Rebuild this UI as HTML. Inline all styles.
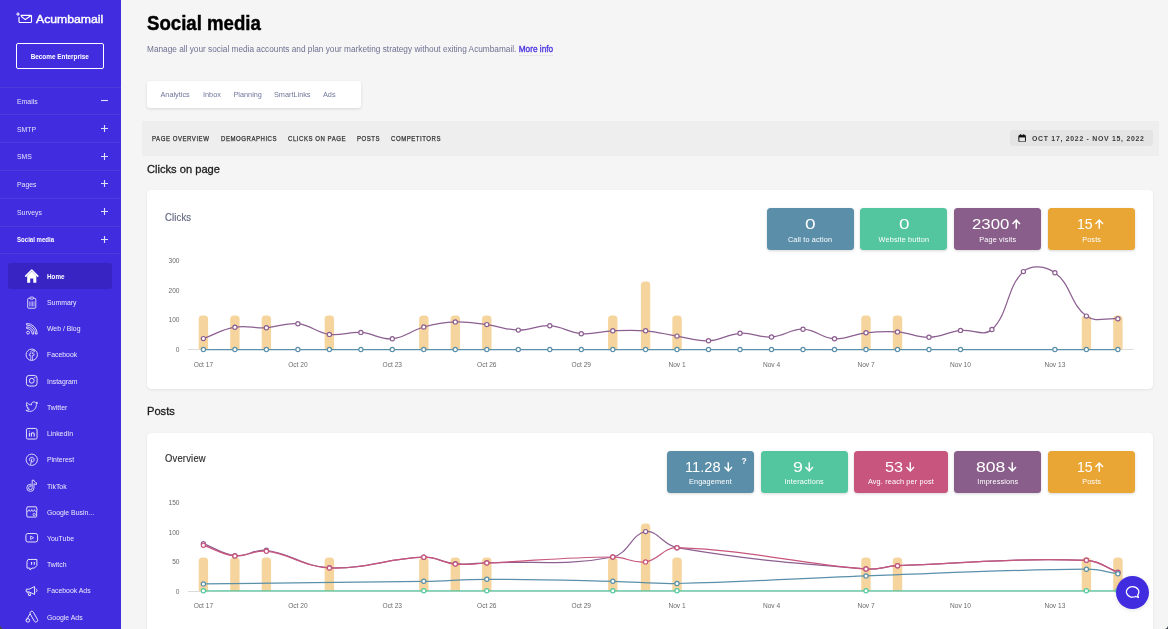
<!DOCTYPE html>
<html lang="en">
<head>
<meta charset="utf-8">
<title>Social media - Acumbamail</title>
<style>
*{box-sizing:border-box;margin:0;padding:0}
html,body{width:1168px;height:629px;overflow:hidden;background:#f5f5f5;font-family:"Liberation Sans",sans-serif;}
body{position:relative}
.abs{position:absolute}
#side{position:absolute;left:0;top:0;width:121px;height:629px;background:#412cdf;color:#fff;overflow:hidden}
#side .logo{position:absolute;left:36.4px;top:10.1px;font-size:11.6px;font-weight:normal;-webkit-text-stroke:.4px #fff;line-height:18px;white-space:nowrap;transform-origin:0 50%;transform:scaleX(1.055)}
#side .btn{position:absolute;left:16.3px;top:43.1px;width:87.5px;height:25.9px;border:1.8px solid #fff;border-radius:2px;white-space:nowrap}
#side .btn span{position:absolute;left:0;right:0;top:7.9px;font-size:7.3px;font-weight:bold;text-align:center;line-height:10px;transform:scaleX(.875)}
#side .sep{position:absolute;left:0;width:121px;height:1px;background:#4f3ade}
#side .mi{position:absolute;left:16.5px;font-size:8px;line-height:10px;color:#e4e1fa;white-space:nowrap;transform-origin:0 50%;transform:scaleX(.86)}
#side .mi.b{font-weight:bold;color:#fff;font-size:7.5px;transform:scaleX(.81)}
#side .pm{position:absolute;left:101.1px;width:7px;height:7px}
#side .pm:before{content:"";position:absolute;left:0;top:2.9px;width:7px;height:1.2px;background:#f0eefc}
#side .pm.p:after{content:"";position:absolute;left:2.9px;top:0;width:1.2px;height:7px;background:#f0eefc}
#side .hl{position:absolute;left:7.8px;top:263px;width:104.4px;height:26px;border-radius:3px;background:#3824c3}
#side .si{position:absolute;left:47px;font-size:8px;line-height:10px;color:#eceafc;white-space:nowrap;transform-origin:0 50%;transform:scaleX(.86)}
#side .si.b{font-weight:bold;color:#fff;font-size:7.5px;transform:scaleX(.84)}
#side svg.ic{position:absolute;left:25px;width:13.5px;height:13.5px;overflow:visible}
#side svg.ic *{vector-effect:none}
h1{position:absolute;left:147px;top:6.5px;font-size:20.7px;line-height:32px;font-weight:bold;color:#000;white-space:nowrap;transform-origin:0 50%;transform:scaleX(.9);-webkit-text-stroke:.45px #000}
.sub{position:absolute;left:147px;top:43.9px;font-size:8.27px;line-height:12px;color:#6e7191;white-space:nowrap}
.sub b{font-weight:normal;color:#4a33e0;-webkit-text-stroke:.3px #4a33e0;display:inline-block;line-height:10px;border-bottom:1px solid #e6e6ea}
.tabs{position:absolute;left:147px;top:81px;width:214.3px;height:26.5px;background:#fff;border-radius:3px;box-shadow:0 1px 3px rgba(0,0,0,.12)}
.tabs span{position:absolute;top:8.9px;font-size:7.3px;line-height:10px;color:#70779c;white-space:nowrap}
.nav{position:absolute;left:142px;top:120.6px;width:1017px;height:35px;background:#eeeeee}
.nav span{position:absolute;top:13.4px;font-size:6.9px;line-height:9px;letter-spacing:.6px;color:#333;font-weight:normal;-webkit-text-stroke:.25px #333;white-space:nowrap;transform-origin:0 50%;transform:scaleX(.878)}
.date{position:absolute;left:1010.3px;top:130px;width:142.7px;height:16.3px;border-radius:3px;background:#e4e4e4}
.date span{position:absolute;left:21.4px;top:4.2px;font-size:7.6px;line-height:10px;letter-spacing:.8px;color:#3a3a3a;font-weight:bold;white-space:nowrap;transform-origin:0 50%;transform:scaleX(.907)}
h2{position:absolute;left:147.4px;font-size:11.3px;line-height:14px;font-weight:normal;color:#1c1c1c;white-space:nowrap;transform-origin:0 50%;transform:scaleX(.985);-webkit-text-stroke:.3px #1c1c1c}
.card{position:absolute;left:147px;width:1006px;background:#fff;border-radius:4.5px;box-shadow:0 1px 3px rgba(0,0,0,.08)}
.ct{position:absolute;left:165.2px;font-size:10.3px;line-height:13px;white-space:nowrap;letter-spacing:.2px;transform-origin:0 50%;transform:scaleX(.917)}
.st{position:absolute;height:42px;border-radius:3.5px;color:#fff;text-align:center;box-shadow:0 1px 3px rgba(0,0,0,.16)}
.st .n{position:absolute;top:5.6px;font-size:15px;line-height:20px;white-space:nowrap;transform-origin:0 50%}
.st svg.ar{position:absolute;top:10.4px;width:8.5px;height:10px;overflow:visible}
.st .q{position:absolute;left:74.6px;top:4.5px;font-size:8.5px;line-height:10px;font-weight:bold}
.st .l{position:absolute;left:0;right:0;top:26.6px;font-size:7.3px;line-height:10px;white-space:nowrap;letter-spacing:.15px}
svg.chart{position:absolute;overflow:visible}
svg.chart .tk text{font-family:"Liberation Sans",sans-serif;font-size:6.6px;fill:#6a6a6a}
.chat{position:absolute;left:1116px;top:575.800px;width:33px;height:33px;border-radius:50%;background:#412cdf;box-shadow:0 1px 4px rgba(0,0,0,.12)}
.corner{position:absolute;left:0;top:624.500px;width:4.500px;height:4.500px;background:#4d4d3c}
.corner2{position:absolute;left:1164.500px;top:625.500px;width:3.500px;height:3.500px;background:#3a3f4a;overflow:hidden}
.corner2:after{content:"";position:absolute;left:-4.500px;top:-4.500px;width:8px;height:8px;border-radius:50%;background:#f5f5f5}
.corner:after{content:"";position:absolute;left:0;top:-4.500px;width:9px;height:9px;border-radius:50%;background:#412cdf}
</style>
</head>
<body>
<div id="side">
<svg class="abs" style="left:16px;top:10px" width="18" height="16" viewBox="16 10 18 16"><g fill="none" stroke="#fff" stroke-width="1.15" stroke-linejoin="round" stroke-linecap="round"><path d="M21 15.3H30.5a1 1 0 0 1 1 1V21.500a1 1 0 0 1 -1 1H20a1 1 0 0 1 -1 -1V17.300"/><path d="M21.400 16.500L25.300 19.600L31.200 15.600"/></g><path d="M18 12.300V15.900M16.200 14.100H19.800" stroke="#fff" stroke-width="1" fill="none"/></svg><div class="logo">Acumbamail</div><div class="btn"><span>Become Enterprise</span></div><div class="sep" style="top:86.6px"></div><div class="sep" style="top:114.4px"></div><div class="sep" style="top:142.2px"></div><div class="sep" style="top:169.9px"></div><div class="sep" style="top:197.7px"></div><div class="sep" style="top:225.5px"></div><div class="sep" style="top:253.3px"></div><div class="mi" style="top:96.86px">Emails</div><svg class="abs" style="left:101.1px;top:97.0px;overflow:visible" width="7" height="7" viewBox="0 0 7 7"><path d="M0 3.5H7" stroke="#e2dffa" stroke-width="1.1" fill="none"/></svg><div class="mi" style="top:124.86px">SMTP</div><svg class="abs" style="left:101.1px;top:124.8px;overflow:visible" width="7" height="7" viewBox="0 0 7 7"><path d="M0 3.5H7M3.5 0V7" stroke="#e2dffa" stroke-width="1.1" fill="none"/></svg><div class="mi" style="top:151.86px">SMS</div><svg class="abs" style="left:101.1px;top:152.5px;overflow:visible" width="7" height="7" viewBox="0 0 7 7"><path d="M0 3.5H7M3.5 0V7" stroke="#e2dffa" stroke-width="1.1" fill="none"/></svg><div class="mi" style="top:179.86px">Pages</div><svg class="abs" style="left:101.1px;top:180.2px;overflow:visible" width="7" height="7" viewBox="0 0 7 7"><path d="M0 3.5H7M3.5 0V7" stroke="#e2dffa" stroke-width="1.1" fill="none"/></svg><div class="mi" style="top:207.86px">Surveys</div><svg class="abs" style="left:101.1px;top:208.0px;overflow:visible" width="7" height="7" viewBox="0 0 7 7"><path d="M0 3.5H7M3.5 0V7" stroke="#e2dffa" stroke-width="1.1" fill="none"/></svg><div class="mi b" style="top:235.02px">Social media</div><svg class="abs" style="left:101.1px;top:235.8px;overflow:visible" width="7" height="7" viewBox="0 0 7 7"><path d="M0 3.5H7M3.5 0V7" stroke="#e2dffa" stroke-width="1.1" fill="none"/></svg><div class="hl"></div><svg class="ic" style="top:269.3px" viewBox="0 0 15 15"><path d="M0.8 7.9L7.5 1.2L14.2 7.9" fill="none" stroke="#fff" stroke-width="1.7" stroke-linejoin="round" stroke-linecap="round"/><path d="M2.4 7.6L7.5 2.6L12.6 7.600V15.400H9.200V10.600H5.800V15.400H2.400Z" fill="#fff"/></svg><div class="si b" style="top:272.02px">Home</div><svg class="ic" style="top:295.5px" viewBox="0 0 15 15"><g fill="none" stroke="#e8e5fb" stroke-width="1"><rect x="3" y="2.6" width="9" height="11" rx="1"/><rect x="5.6" y="1.2" width="3.8" height="2.2" rx=".6" fill="#412cdf"/><path d="M5.2 6V11.6M6.8 6V11.6M8.4 6V11.6M10 6V11.6" stroke-width=".7"/></g></svg><div class="si" style="top:297.86px">Summary</div><svg class="ic" style="top:321.7px" viewBox="0 0 15 15"><g fill="none" stroke="#e8e5fb" stroke-width="1"><circle cx="3.4" cy="11.8" r="1.6"/><path d="M1.8 7.2a6.2 6.2 0 0 1 6.2 6.2h1.8a8 8 0 0 0 -8 -8zM1.8 3.4a10 10 0 0 1 10 10h1.8A11.8 11.8 0 0 0 1.8 1.6z" stroke-linejoin="round"/></g></svg><div class="si" style="top:323.86px">Web / Blog</div><svg class="ic" style="top:347.9px" viewBox="0 0 15 15"><g fill="none" stroke="#e8e5fb" stroke-width="1"><circle cx="7.5" cy="7.5" r="6.3"/><path d="M8.3 13.6V8.4h1.6l.3-1.9H8.3V5.4c0-.7.3-1.1 1.1-1.1h.9V2.7c-.3 0-.9-.1-1.5-.1-1.5 0-2.4.9-2.4 2.5v1.4H4.9v1.9h1.5v5.2" stroke-linejoin="round" stroke-width=".8"/></g></svg><div class="si" style="top:349.86px">Facebook</div><svg class="ic" style="top:374.1px" viewBox="0 0 15 15"><g fill="none" stroke="#e8e5fb" stroke-width="1.1"><rect x="1.6" y="1.6" width="11.8" height="11.8" rx="3"/><circle cx="7.5" cy="7.5" r="2.7"/><circle cx="10.9" cy="4.1" r=".5" fill="#e8e5fb" stroke-width=".5"/></g></svg><div class="si" style="top:376.86px">Instagram</div><svg class="ic" style="top:400.3px" viewBox="0 0 15 15"><path d="M13.8 3.4c-.5.2-1 .4-1.5.4.5-.3 1-.8 1.2-1.4-.5.3-1.1.5-1.7.6a2.6 2.6 0 0 0 -4.5 2.4C5.100 5.300 3.200 4.200 1.900 2.700c-.7 1.200-.3 2.700.8 3.500-.4 0-.8-.1-1.200-.3 0 1.300.9 2.400 2.100 2.600-.4.1-.8.1-1.200 0 .3 1.100 1.300 1.800 2.500 1.900-1.100.900-2.500 1.300-3.900 1.100 1.200.8 2.600 1.200 4.100 1.200 4.900 0 7.600-4.100 7.600-7.600v-.3c.5-.4 1-.9 1.300-1.400z" fill="none" stroke="#e8e5fb" stroke-width="1" stroke-linejoin="round"/></svg><div class="si" style="top:402.86px">Twitter</div><svg class="ic" style="top:426.5px" viewBox="0 0 15 15"><g fill="none" stroke="#e8e5fb" stroke-width="1.1"><rect x="1.6" y="1.6" width="11.8" height="11.8" rx="1.6"/><path d="M4.9 6.4V10.6M4.9 4.3V5M7.1 10.6V6.4M7.1 8c0-1 .7-1.600 1.600-1.600s1.500.6 1.500 1.600v2.600" stroke-width="1.2"/></g></svg><div class="si" style="top:428.86px">LinkedIn</div><svg class="ic" style="top:452.7px" viewBox="0 0 15 15"><g fill="none" stroke="#e8e5fb" stroke-width="1"><circle cx="7.5" cy="7.5" r="6.3"/><path d="M6.3 12.600L7.600 6.600M5.400 8.700c-.6-.8-.6-2.200.2-3.100 1-1.100 3-1.200 4 0 .9 1.100.6 3.100-.4 3.900-.8.600-1.800.3-2.100-.3" stroke-linecap="round"/></g></svg><div class="si" style="top:454.86px">Pinterest</div><svg class="ic" style="top:478.9px" viewBox="0 0 15 15"><g fill="none" stroke="#e8e5fb" stroke-width="1"><path d="M8 1.400h2c.1 1.500 1.200 2.600 2.700 2.700v2c-1 0-1.900-.3-2.700-.8v4.500a4 4 0 1 1 -4 -4c.2 0 .5 0 .7.100v2.100a2 2 0 1 0 1.300 1.900z" stroke-linejoin="round"/></g></svg><div class="si" style="top:481.86px">TikTok</div><svg class="ic" style="top:505.1px" viewBox="0 0 15 15"><g fill="none" stroke="#e8e5fb" stroke-width="1.1"><path d="M2 6.500V12.400a1 1 0 0 0 1 1H12a1 1 0 0 0 1 -1V6.500"/><path d="M1.500 5.200L2.600 2H12.400L13.500 5.200c0 1-.700 1.700-1.500 1.700s-1.500-.7-1.500-1.700c0 1-.7 1.700-1.500 1.700S7.500 6.200 7.500 5.200c0 1-.7 1.700-1.500 1.700S4.500 6.200 4.500 5.200c0 1-.7 1.700-1.500 1.700S1.500 6.200 1.500 5.200z" stroke-linejoin="round"/><circle cx="10.200" cy="10.600" r="1.300" stroke-width=".9"/></g></svg><div class="si" style="top:507.86px">Google Busin...</div><svg class="ic" style="top:531.4px" viewBox="0 0 15 15"><g fill="none" stroke="#e8e5fb" stroke-width="1.1"><rect x="1" y="2.800" width="13" height="9.400" rx="2.200"/><path d="M6.200 5.600L9.600 7.500L6.200 9.400Z" stroke-linejoin="round" stroke-width=".9"/></g></svg><div class="si" style="top:533.86px">YouTube</div><svg class="ic" style="top:557.5px" viewBox="0 0 15 15"><g fill="none" stroke="#e8e5fb" stroke-width="1.1"><path d="M3.400 1.600H13.200V8.400L10.400 11.200H7.800L5.600 13.400V11.200H2.200V4z" stroke-linejoin="round"/><path d="M7.300 4.400V7.400M10.300 4.400V7.400" stroke-width="1.200"/></g></svg><div class="si" style="top:559.86px">Twitch</div><svg class="ic" style="top:583.8px" viewBox="0 0 15 15"><g fill="none" stroke="#e8e5fb" stroke-width="1.1" stroke-linejoin="round"><path d="M1.400 5.800H4.600L10.600 2.800V11.600L4.600 8.800H1.400Z"/><path d="M3.200 8.800L4.200 12.800H6.200L5.400 9.200"/><path d="M12.200 5.400a2 2 0 0 1 0 3.600" stroke-linecap="round"/></g></svg><div class="si" style="top:585.86px">Facebook Ads</div><svg class="ic" style="top:610.0px" viewBox="0 0 15 15"><g fill="none" stroke="#e8e5fb" stroke-width="1.100" stroke-linejoin="round"><path d="M5.800 2.400a2 2 0 0 1 3.500 0L13.800 10.400a2 2 0 0 1 -3.500 2L5.800 4.400a2 2 0 0 1 0 -2z"/><path d="M5.600 4.200L1.300 11.600"/><circle cx="3.200" cy="11.500" r="2"/></g></svg><div class="si" style="top:612.86px">Google Ads</div>
</div>
<h1>Social media</h1>
<div class="sub">Manage all your social media accounts and plan your marketing strategy without exiting Acumbamail. <b>More info</b></div>
<div class="tabs"><span style="left:13.5px">Analytics</span><span style="left:56px">Inbox</span><span style="left:86.5px">Planning</span><span style="left:127px">SmartLinks</span><span style="left:176px">Ads</span></div>
<div class="nav"><span style="left:10px">PAGE OVERVIEW</span><span style="left:79px">DEMOGRAPHICS</span><span style="left:146px">CLICKS ON PAGE</span><span style="left:215px">POSTS</span><span style="left:249px">COMPETITORS</span></div>
<div class="date"><svg class="abs" style="left:7.6px;top:3.7px" width="8.3" height="8.6" viewBox="0 0 9 9" preserveAspectRatio="none"><rect x="0.9" y="1.4" width="7.2" height="6.9" rx="1" fill="none" stroke="#111" stroke-width="1"/><rect x="0.9" y="1.4" width="7.2" height="2.2" fill="#111"/><rect x="2.3" y="0.2" width="1" height="2" fill="#111"/><rect x="5.7" y="0.2" width="1" height="2" fill="#111"/></svg><span>OCT 17, 2022 - NOV 15, 2022</span></div>

<h2 style="top:161.8px">Clicks on page</h2>
<div class="card" style="top:190px;height:199px"></div>
<div class="ct" style="top:210.5px;color:#5f647f;-webkit-text-stroke:.15px #5f647f">Clicks</div>
<div class="st" style="left:766.5px;top:208.3px;width:87.2px;background:#5b8fa9"><span class="n" style="left:38.14px;transform:scaleX(1.271)">0</span><div class="l">Call to action</div></div><div class="st" style="left:860.3px;top:208.3px;width:87.2px;background:#54c69f"><span class="n" style="left:38.55px;transform:scaleX(1.257)">0</span><div class="l">Website button</div></div><div class="st" style="left:954.2px;top:208.3px;width:87.1px;background:#8a5e8b"><span class="n" style="left:17.86px;transform:scaleX(1.118)">2300</span><svg class="ar" style="left:57.6px" viewBox="0 0 8.5 10"><path d="M4.25 9.8V1.2M0.5 5L4.25 1.1L8 5" fill="none" stroke="#fff" stroke-width="1.45"/></svg><div class="l">Page visits</div></div><div class="st" style="left:1048.1px;top:208.3px;width:87.1px;background:#e9a634"><span class="n" style="left:28.54px;transform:scaleX(0.938)">15</span><svg class="ar" style="left:46.9px" viewBox="0 0 8.5 10"><path d="M4.25 9.8V1.2M0.5 5L4.25 1.1L8 5" fill="none" stroke="#fff" stroke-width="1.45"/></svg><div class="l">Posts</div></div>
<svg class="chart" style="left:147px;top:250px" width="1006" height="130" viewBox="147 0 1006 130"><line x1="188" x2="1133.5" y1="99.5" y2="99.5" stroke="#dcdcdc" stroke-width="1"/><path d="M198.70 99.50 V69.20 q0 -3.70 3.70 -3.70 H204.40 q3.70 0 3.70 3.70 V99.50 Z" fill="#f5d59d"/><path d="M230.19 99.50 V69.20 q0 -3.70 3.70 -3.70 H235.89 q3.70 0 3.70 3.70 V99.50 Z" fill="#f5d59d"/><path d="M261.68 99.50 V69.20 q0 -3.70 3.70 -3.70 H267.38 q3.70 0 3.70 3.70 V99.50 Z" fill="#f5d59d"/><path d="M324.66 99.50 V69.20 q0 -3.70 3.70 -3.70 H330.36 q3.70 0 3.70 3.70 V99.50 Z" fill="#f5d59d"/><path d="M419.13 99.50 V69.20 q0 -3.70 3.70 -3.70 H424.83 q3.70 0 3.70 3.70 V99.50 Z" fill="#f5d59d"/><path d="M450.62 99.50 V69.20 q0 -3.70 3.70 -3.70 H456.32 q3.70 0 3.70 3.70 V99.50 Z" fill="#f5d59d"/><path d="M482.11 99.50 V69.20 q0 -3.70 3.70 -3.70 H487.81 q3.70 0 3.70 3.70 V99.50 Z" fill="#f5d59d"/><path d="M608.07 99.50 V69.20 q0 -3.70 3.70 -3.70 H613.77 q3.70 0 3.70 3.70 V99.50 Z" fill="#f5d59d"/><path d="M640.86 99.50 V35.20 q0 -3.70 3.70 -3.70 H646.56 q3.70 0 3.70 3.70 V99.50 Z" fill="#f5d59d"/><path d="M672.35 99.50 V69.20 q0 -3.70 3.70 -3.70 H678.05 q3.70 0 3.70 3.70 V99.50 Z" fill="#f5d59d"/><path d="M861.29 99.50 V69.20 q0 -3.70 3.70 -3.70 H866.99 q3.70 0 3.70 3.70 V99.50 Z" fill="#f5d59d"/><path d="M892.78 99.50 V69.20 q0 -3.70 3.70 -3.70 H898.48 q3.70 0 3.70 3.70 V99.50 Z" fill="#f5d59d"/><path d="M1081.72 99.50 V69.20 q0 -3.70 3.70 -3.70 H1087.42 q3.70 0 3.70 3.70 V99.50 Z" fill="#f5d59d"/><path d="M1113.21 99.50 V69.20 q0 -3.70 3.70 -3.70 H1118.91 q3.70 0 3.70 3.70 V99.50 Z" fill="#f5d59d"/><path d="M203.4 88.6C216.0 84.0 221.9 79.4 234.9 77.2C247.1 75.1 253.8 78.4 266.4 77.7C279.0 77.0 285.6 72.4 297.9 73.7C310.8 75.1 316.4 82.6 329.4 84.4C341.6 86.1 348.4 81.5 360.9 82.4C373.6 83.3 380.0 89.9 392.3 88.8C405.2 87.7 410.9 80.5 423.8 77.0C436.1 73.7 442.7 72.4 455.3 71.9C467.9 71.4 474.3 73.0 486.8 74.6C499.5 76.2 505.7 79.9 518.3 80.1C530.9 80.3 537.3 75.0 549.8 75.7C562.5 76.4 568.5 82.7 581.3 83.7C593.7 84.7 600.1 81.4 612.8 80.8C625.9 80.2 632.5 79.7 645.6 80.8C658.2 81.8 664.4 84.1 677.0 86.1C689.6 88.1 696.0 91.4 708.5 90.8C721.2 90.2 727.3 84.1 740.0 83.3C752.5 82.5 759.1 87.8 771.5 87.0C784.3 86.2 790.5 78.8 803.0 79.2C815.7 79.6 821.7 88.1 834.5 88.8C846.9 89.5 853.3 84.2 866.0 82.8C878.5 81.4 885.0 81.0 897.5 81.9C910.2 82.8 916.4 87.6 929.0 87.3C941.6 87.0 947.7 82.0 960.5 80.4C972.9 78.9 983.8 87.1 991.9 79.5C1009.0 63.6 1006.4 37.0 1023.4 21.6C1031.6 14.3 1045.6 16.1 1054.9 22.7C1070.8 33.9 1070.6 54.5 1086.4 66.1C1095.8 72.9 1105.3 67.7 1117.9 68.8" fill="none" stroke="#8c5f91" stroke-width="1.25"/><circle cx="203.4" cy="88.6" r="2.1" fill="#fff" stroke="#8c5f91" stroke-width="1.2"/><circle cx="234.9" cy="77.2" r="2.1" fill="#fff" stroke="#8c5f91" stroke-width="1.2"/><circle cx="266.4" cy="77.7" r="2.1" fill="#fff" stroke="#8c5f91" stroke-width="1.2"/><circle cx="297.9" cy="73.7" r="2.1" fill="#fff" stroke="#8c5f91" stroke-width="1.2"/><circle cx="329.4" cy="84.4" r="2.1" fill="#fff" stroke="#8c5f91" stroke-width="1.2"/><circle cx="360.9" cy="82.4" r="2.1" fill="#fff" stroke="#8c5f91" stroke-width="1.2"/><circle cx="392.3" cy="88.8" r="2.1" fill="#fff" stroke="#8c5f91" stroke-width="1.2"/><circle cx="423.8" cy="77.0" r="2.1" fill="#fff" stroke="#8c5f91" stroke-width="1.2"/><circle cx="455.3" cy="71.9" r="2.1" fill="#fff" stroke="#8c5f91" stroke-width="1.2"/><circle cx="486.8" cy="74.6" r="2.1" fill="#fff" stroke="#8c5f91" stroke-width="1.2"/><circle cx="518.3" cy="80.1" r="2.1" fill="#fff" stroke="#8c5f91" stroke-width="1.2"/><circle cx="549.8" cy="75.7" r="2.1" fill="#fff" stroke="#8c5f91" stroke-width="1.2"/><circle cx="581.3" cy="83.7" r="2.1" fill="#fff" stroke="#8c5f91" stroke-width="1.2"/><circle cx="612.8" cy="80.8" r="2.1" fill="#fff" stroke="#8c5f91" stroke-width="1.2"/><circle cx="645.6" cy="80.8" r="2.1" fill="#fff" stroke="#8c5f91" stroke-width="1.2"/><circle cx="677.0" cy="86.1" r="2.1" fill="#fff" stroke="#8c5f91" stroke-width="1.2"/><circle cx="708.5" cy="90.8" r="2.1" fill="#fff" stroke="#8c5f91" stroke-width="1.2"/><circle cx="740.0" cy="83.3" r="2.1" fill="#fff" stroke="#8c5f91" stroke-width="1.2"/><circle cx="771.5" cy="87.0" r="2.1" fill="#fff" stroke="#8c5f91" stroke-width="1.2"/><circle cx="803.0" cy="79.2" r="2.1" fill="#fff" stroke="#8c5f91" stroke-width="1.2"/><circle cx="834.5" cy="88.8" r="2.1" fill="#fff" stroke="#8c5f91" stroke-width="1.2"/><circle cx="866.0" cy="82.8" r="2.1" fill="#fff" stroke="#8c5f91" stroke-width="1.2"/><circle cx="897.5" cy="81.9" r="2.1" fill="#fff" stroke="#8c5f91" stroke-width="1.2"/><circle cx="929.0" cy="87.3" r="2.1" fill="#fff" stroke="#8c5f91" stroke-width="1.2"/><circle cx="960.5" cy="80.4" r="2.1" fill="#fff" stroke="#8c5f91" stroke-width="1.2"/><circle cx="991.9" cy="79.5" r="2.1" fill="#fff" stroke="#8c5f91" stroke-width="1.2"/><circle cx="1023.4" cy="21.6" r="2.1" fill="#fff" stroke="#8c5f91" stroke-width="1.2"/><circle cx="1054.9" cy="22.7" r="2.1" fill="#fff" stroke="#8c5f91" stroke-width="1.2"/><circle cx="1086.4" cy="66.1" r="2.1" fill="#fff" stroke="#8c5f91" stroke-width="1.2"/><circle cx="1117.9" cy="68.8" r="2.1" fill="#fff" stroke="#8c5f91" stroke-width="1.2"/><path d="M203.4 99.5 H1117.9" stroke="#5a90aa" stroke-width="1.25"/><circle cx="203.4" cy="99.5" r="2.1" fill="#fff" stroke="#5a90aa" stroke-width="1.2"/><circle cx="234.9" cy="99.5" r="2.1" fill="#fff" stroke="#5a90aa" stroke-width="1.2"/><circle cx="266.4" cy="99.5" r="2.1" fill="#fff" stroke="#5a90aa" stroke-width="1.2"/><circle cx="297.9" cy="99.5" r="2.1" fill="#fff" stroke="#5a90aa" stroke-width="1.2"/><circle cx="329.4" cy="99.5" r="2.1" fill="#fff" stroke="#5a90aa" stroke-width="1.2"/><circle cx="360.9" cy="99.5" r="2.1" fill="#fff" stroke="#5a90aa" stroke-width="1.2"/><circle cx="392.3" cy="99.5" r="2.1" fill="#fff" stroke="#5a90aa" stroke-width="1.2"/><circle cx="423.8" cy="99.5" r="2.1" fill="#fff" stroke="#5a90aa" stroke-width="1.2"/><circle cx="455.3" cy="99.5" r="2.1" fill="#fff" stroke="#5a90aa" stroke-width="1.2"/><circle cx="486.8" cy="99.5" r="2.1" fill="#fff" stroke="#5a90aa" stroke-width="1.2"/><circle cx="518.3" cy="99.5" r="2.1" fill="#fff" stroke="#5a90aa" stroke-width="1.2"/><circle cx="549.8" cy="99.5" r="2.1" fill="#fff" stroke="#5a90aa" stroke-width="1.2"/><circle cx="581.3" cy="99.5" r="2.1" fill="#fff" stroke="#5a90aa" stroke-width="1.2"/><circle cx="612.8" cy="99.5" r="2.1" fill="#fff" stroke="#5a90aa" stroke-width="1.2"/><circle cx="645.6" cy="99.5" r="2.1" fill="#fff" stroke="#5a90aa" stroke-width="1.2"/><circle cx="677.0" cy="99.5" r="2.1" fill="#fff" stroke="#5a90aa" stroke-width="1.2"/><circle cx="708.5" cy="99.5" r="2.1" fill="#fff" stroke="#5a90aa" stroke-width="1.2"/><circle cx="740.0" cy="99.5" r="2.1" fill="#fff" stroke="#5a90aa" stroke-width="1.2"/><circle cx="771.5" cy="99.5" r="2.1" fill="#fff" stroke="#5a90aa" stroke-width="1.2"/><circle cx="803.0" cy="99.5" r="2.1" fill="#fff" stroke="#5a90aa" stroke-width="1.2"/><circle cx="834.5" cy="99.5" r="2.1" fill="#fff" stroke="#5a90aa" stroke-width="1.2"/><circle cx="866.0" cy="99.5" r="2.1" fill="#fff" stroke="#5a90aa" stroke-width="1.2"/><circle cx="897.5" cy="99.5" r="2.1" fill="#fff" stroke="#5a90aa" stroke-width="1.2"/><circle cx="929.0" cy="99.5" r="2.1" fill="#fff" stroke="#5a90aa" stroke-width="1.2"/><circle cx="960.5" cy="99.5" r="2.1" fill="#fff" stroke="#5a90aa" stroke-width="1.2"/><circle cx="1054.9" cy="99.5" r="2.1" fill="#fff" stroke="#5a90aa" stroke-width="1.2"/><circle cx="1086.4" cy="99.5" r="2.1" fill="#fff" stroke="#5a90aa" stroke-width="1.2"/><circle cx="1117.9" cy="99.5" r="2.1" fill="#fff" stroke="#5a90aa" stroke-width="1.2"/><g class="tk"><text x="179.5" y="101.8" text-anchor="end">0</text><text x="179.5" y="72.1" text-anchor="end">100</text><text x="179.5" y="42.5" text-anchor="end">200</text><text x="179.5" y="12.8" text-anchor="end">300</text><text x="203.4" y="116.6" text-anchor="middle">Oct 17</text><text x="297.9" y="116.6" text-anchor="middle">Oct 20</text><text x="392.3" y="116.6" text-anchor="middle">Oct 23</text><text x="486.8" y="116.6" text-anchor="middle">Oct 26</text><text x="581.3" y="116.6" text-anchor="middle">Oct 29</text><text x="677.0" y="116.6" text-anchor="middle">Nov 1</text><text x="771.5" y="116.6" text-anchor="middle">Nov 4</text><text x="866.0" y="116.6" text-anchor="middle">Nov 7</text><text x="960.5" y="116.6" text-anchor="middle">Nov 10</text><text x="1054.9" y="116.6" text-anchor="middle">Nov 13</text></g></svg>

<h2 style="top:403.9px">Posts</h2>
<div class="card" style="top:433px;height:220px"></div>
<div class="ct" style="top:451.7px;color:#2e2e2e;-webkit-text-stroke:.15px #2e2e2e">Overview</div>
<div class="st" style="left:666.8px;top:451.3px;width:87.2px;background:#5b8fa9"><span class="n" style="left:18.60px;transform:scaleX(0.975)">11.28</span><svg class="ar" style="left:56.9px" viewBox="0 0 8.5 10"><path d="M4.25 0.2V8.8M0.5 5L4.25 8.9L8 5" fill="none" stroke="#fff" stroke-width="1.45"/></svg><div class="l" style="top:25.9px">Engagement</div><div class="q">?</div></div><div class="st" style="left:760.5px;top:451.3px;width:87.3px;background:#54c69f"><span class="n" style="left:32.26px;transform:scaleX(1.182)">9</span><svg class="ar" style="left:44.2px" viewBox="0 0 8.5 10"><path d="M4.25 0.2V8.8M0.5 5L4.25 8.9L8 5" fill="none" stroke="#fff" stroke-width="1.45"/></svg><div class="l" style="top:25.9px">Interactions</div></div><div class="st" style="left:854.3px;top:451.3px;width:93.3px;background:#c8557d"><span class="n" style="left:31.05px;transform:scaleX(1.084)">53</span><svg class="ar" style="left:51.4px" viewBox="0 0 8.5 10"><path d="M4.25 0.2V8.8M0.5 5L4.25 8.9L8 5" fill="none" stroke="#fff" stroke-width="1.45"/></svg><div class="l" style="top:25.9px">Avg. reach per post</div></div><div class="st" style="left:954.2px;top:451.3px;width:87.1px;background:#8a5e8b"><span class="n" style="left:22.25px;transform:scaleX(1.171)">808</span><svg class="ar" style="left:53.7px" viewBox="0 0 8.5 10"><path d="M4.25 0.2V8.8M0.5 5L4.25 8.9L8 5" fill="none" stroke="#fff" stroke-width="1.45"/></svg><div class="l" style="top:25.9px">Impressions</div></div><div class="st" style="left:1048.1px;top:451.3px;width:87.1px;background:#e9a634"><span class="n" style="left:28.54px;transform:scaleX(0.938)">15</span><svg class="ar" style="left:46.9px" viewBox="0 0 8.5 10"><path d="M4.25 9.8V1.2M0.5 5L4.25 1.1L8 5" fill="none" stroke="#fff" stroke-width="1.45"/></svg><div class="l" style="top:25.9px">Posts</div></div>
<svg class="chart" style="left:147px;top:490px" width="1006" height="139" viewBox="147 0 1006 139"><line x1="188" x2="1133.5" y1="101.5" y2="101.5" stroke="#dcdcdc" stroke-width="1"/><path d="M198.70 101.20 V71.10 q0 -3.70 3.70 -3.70 H204.40 q3.70 0 3.70 3.70 V101.20 Z" fill="#f5d59d"/><path d="M230.19 101.20 V71.10 q0 -3.70 3.70 -3.70 H235.89 q3.70 0 3.70 3.70 V101.20 Z" fill="#f5d59d"/><path d="M261.68 101.20 V71.10 q0 -3.70 3.70 -3.70 H267.38 q3.70 0 3.70 3.70 V101.20 Z" fill="#f5d59d"/><path d="M324.66 101.20 V71.10 q0 -3.70 3.70 -3.70 H330.36 q3.70 0 3.70 3.70 V101.20 Z" fill="#f5d59d"/><path d="M419.13 101.20 V71.10 q0 -3.70 3.70 -3.70 H424.83 q3.70 0 3.70 3.70 V101.20 Z" fill="#f5d59d"/><path d="M450.62 101.20 V71.10 q0 -3.70 3.70 -3.70 H456.32 q3.70 0 3.70 3.70 V101.20 Z" fill="#f5d59d"/><path d="M482.11 101.20 V71.10 q0 -3.70 3.70 -3.70 H487.81 q3.70 0 3.70 3.70 V101.20 Z" fill="#f5d59d"/><path d="M608.07 101.20 V71.10 q0 -3.70 3.70 -3.70 H613.77 q3.70 0 3.70 3.70 V101.20 Z" fill="#f5d59d"/><path d="M640.86 101.20 V37.30 q0 -3.70 3.70 -3.70 H646.56 q3.70 0 3.70 3.70 V101.20 Z" fill="#f5d59d"/><path d="M672.35 101.20 V71.10 q0 -3.70 3.70 -3.70 H678.05 q3.70 0 3.70 3.70 V101.20 Z" fill="#f5d59d"/><path d="M861.29 101.20 V71.10 q0 -3.70 3.70 -3.70 H866.99 q3.70 0 3.70 3.70 V101.20 Z" fill="#f5d59d"/><path d="M892.78 101.20 V71.10 q0 -3.70 3.70 -3.70 H898.48 q3.70 0 3.70 3.70 V101.20 Z" fill="#f5d59d"/><path d="M1081.72 101.20 V71.10 q0 -3.70 3.70 -3.70 H1087.42 q3.70 0 3.70 3.70 V101.20 Z" fill="#f5d59d"/><path d="M1113.21 101.20 V71.10 q0 -3.70 3.70 -3.70 H1118.91 q3.70 0 3.70 3.70 V101.20 Z" fill="#f5d59d"/><path d="M203.4 53.6C216.0 58.4 222.0 64.3 234.9 65.7C247.1 67.0 254.0 58.7 266.4 60.3C291.8 63.6 303.7 76.7 329.4 77.8C366.7 79.4 386.2 68.4 423.8 67.2C436.6 66.8 442.6 72.6 455.3 73.7C467.8 74.8 474.2 73.3 486.8 72.8C537.2 70.7 565.0 76.4 612.8 67.0C628.5 63.9 631.7 43.6 645.6 41.6C657.4 39.9 663.2 55.4 677.0 57.7C751.4 70.3 790.4 72.8 866.0 79.0C878.6 80.0 884.8 76.2 897.5 75.7C973.0 72.7 1011.6 68.1 1086.4 70.3C1099.7 70.7 1105.3 77.4 1117.9 82.2" fill="none" stroke="#8c5f91" stroke-width="1.25"/><circle cx="203.4" cy="53.6" r="2.1" fill="#fff" stroke="#8c5f91" stroke-width="1.2"/><circle cx="234.9" cy="65.7" r="2.1" fill="#fff" stroke="#8c5f91" stroke-width="1.2"/><circle cx="266.4" cy="60.3" r="2.1" fill="#fff" stroke="#8c5f91" stroke-width="1.2"/><circle cx="329.4" cy="77.8" r="2.1" fill="#fff" stroke="#8c5f91" stroke-width="1.2"/><circle cx="423.8" cy="67.2" r="2.1" fill="#fff" stroke="#8c5f91" stroke-width="1.2"/><circle cx="455.3" cy="73.7" r="2.1" fill="#fff" stroke="#8c5f91" stroke-width="1.2"/><circle cx="486.8" cy="72.8" r="2.1" fill="#fff" stroke="#8c5f91" stroke-width="1.2"/><circle cx="612.8" cy="67.0" r="2.1" fill="#fff" stroke="#8c5f91" stroke-width="1.2"/><circle cx="645.6" cy="41.6" r="2.1" fill="#fff" stroke="#8c5f91" stroke-width="1.2"/><circle cx="677.0" cy="57.7" r="2.1" fill="#fff" stroke="#8c5f91" stroke-width="1.2"/><circle cx="866.0" cy="79.0" r="2.1" fill="#fff" stroke="#8c5f91" stroke-width="1.2"/><circle cx="897.5" cy="75.7" r="2.1" fill="#fff" stroke="#8c5f91" stroke-width="1.2"/><circle cx="1086.4" cy="70.3" r="2.1" fill="#fff" stroke="#8c5f91" stroke-width="1.2"/><circle cx="1117.9" cy="82.2" r="2.1" fill="#fff" stroke="#8c5f91" stroke-width="1.2"/><path d="M203.4 55.2C216.0 59.5 222.0 64.7 234.9 65.9C247.2 67.1 254.0 59.6 266.4 61.2C291.8 64.4 303.7 76.9 329.4 77.9C366.7 79.3 386.2 68.3 423.8 67.2C436.6 66.8 442.6 72.9 455.3 74.1C467.8 75.2 474.2 73.6 486.8 73.0C537.2 70.7 562.5 67.3 612.8 67.0C626.0 66.9 633.0 73.7 645.6 71.9C658.7 70.0 663.5 57.3 677.0 57.7C751.7 60.1 790.4 72.8 866.0 79.0C878.6 80.0 884.8 76.2 897.5 75.7C973.0 72.7 1011.6 68.0 1086.4 70.3C1099.8 70.7 1105.3 77.6 1117.9 82.4" fill="none" stroke="#c8557d" stroke-width="1.25"/><circle cx="203.4" cy="55.2" r="2.1" fill="#fff" stroke="#c8557d" stroke-width="1.2"/><circle cx="234.9" cy="65.9" r="2.1" fill="#fff" stroke="#c8557d" stroke-width="1.2"/><circle cx="266.4" cy="61.2" r="2.1" fill="#fff" stroke="#c8557d" stroke-width="1.2"/><circle cx="329.4" cy="77.9" r="2.1" fill="#fff" stroke="#c8557d" stroke-width="1.2"/><circle cx="423.8" cy="67.2" r="2.1" fill="#fff" stroke="#c8557d" stroke-width="1.2"/><circle cx="455.3" cy="74.1" r="2.1" fill="#fff" stroke="#c8557d" stroke-width="1.2"/><circle cx="486.8" cy="73.0" r="2.1" fill="#fff" stroke="#c8557d" stroke-width="1.2"/><circle cx="612.8" cy="67.0" r="2.1" fill="#fff" stroke="#c8557d" stroke-width="1.2"/><circle cx="645.6" cy="71.9" r="2.1" fill="#fff" stroke="#c8557d" stroke-width="1.2"/><circle cx="677.0" cy="57.7" r="2.1" fill="#fff" stroke="#c8557d" stroke-width="1.2"/><circle cx="866.0" cy="79.0" r="2.1" fill="#fff" stroke="#c8557d" stroke-width="1.2"/><circle cx="897.5" cy="75.7" r="2.1" fill="#fff" stroke="#c8557d" stroke-width="1.2"/><circle cx="1086.4" cy="70.3" r="2.1" fill="#fff" stroke="#c8557d" stroke-width="1.2"/><circle cx="1117.9" cy="82.4" r="2.1" fill="#fff" stroke="#c8557d" stroke-width="1.2"/><path d="M203.4 93.9C291.6 92.9 335.7 92.7 423.8 91.3C449.0 90.9 461.6 89.3 486.8 89.3C537.2 89.3 562.4 90.2 612.8 91.3C638.5 91.9 651.3 94.0 677.0 93.5C752.6 91.9 790.4 88.5 866.0 85.9C954.1 82.8 998.4 80.0 1086.4 79.2C1099.1 79.1 1105.3 81.9 1117.9 83.7" fill="none" stroke="#5a90aa" stroke-width="1.25"/><circle cx="203.4" cy="93.9" r="2.1" fill="#fff" stroke="#5a90aa" stroke-width="1.2"/><circle cx="423.8" cy="91.3" r="2.1" fill="#fff" stroke="#5a90aa" stroke-width="1.2"/><circle cx="486.8" cy="89.3" r="2.1" fill="#fff" stroke="#5a90aa" stroke-width="1.2"/><circle cx="612.8" cy="91.3" r="2.1" fill="#fff" stroke="#5a90aa" stroke-width="1.2"/><circle cx="677.0" cy="93.5" r="2.1" fill="#fff" stroke="#5a90aa" stroke-width="1.2"/><circle cx="866.0" cy="85.9" r="2.1" fill="#fff" stroke="#5a90aa" stroke-width="1.2"/><circle cx="1086.4" cy="79.2" r="2.1" fill="#fff" stroke="#5a90aa" stroke-width="1.2"/><circle cx="1117.9" cy="83.7" r="2.1" fill="#fff" stroke="#5a90aa" stroke-width="1.2"/><path d="M203.4 100.8C291.6 100.8 335.7 100.8 423.8 100.8C449.0 100.8 461.6 100.8 486.8 100.8C537.2 100.8 562.4 100.8 612.8 100.8C638.5 100.8 651.3 100.8 677.0 100.8C752.6 100.8 790.4 100.8 866.0 100.8C954.2 100.8 998.2 100.8 1086.4 100.8C1099.0 100.8 1105.3 100.8 1117.9 100.8" fill="none" stroke="#55c8a0" stroke-width="1.25"/><circle cx="203.4" cy="100.8" r="2.1" fill="#fff" stroke="#55c8a0" stroke-width="1.2"/><circle cx="423.8" cy="100.8" r="2.1" fill="#fff" stroke="#55c8a0" stroke-width="1.2"/><circle cx="486.8" cy="100.8" r="2.1" fill="#fff" stroke="#55c8a0" stroke-width="1.2"/><circle cx="612.8" cy="100.8" r="2.1" fill="#fff" stroke="#55c8a0" stroke-width="1.2"/><circle cx="677.0" cy="100.8" r="2.1" fill="#fff" stroke="#55c8a0" stroke-width="1.2"/><circle cx="866.0" cy="100.8" r="2.1" fill="#fff" stroke="#55c8a0" stroke-width="1.2"/><circle cx="1086.4" cy="100.8" r="2.1" fill="#fff" stroke="#55c8a0" stroke-width="1.2"/><circle cx="1117.9" cy="100.8" r="2.1" fill="#fff" stroke="#55c8a0" stroke-width="1.2"/><g class="tk"><text x="179.5" y="103.8" text-anchor="end">0</text><text x="179.5" y="74.1" text-anchor="end">50</text><text x="179.5" y="44.5" text-anchor="end">100</text><text x="179.5" y="14.8" text-anchor="end">150</text><text x="203.4" y="118.3" text-anchor="middle">Oct 17</text><text x="297.9" y="118.3" text-anchor="middle">Oct 20</text><text x="392.3" y="118.3" text-anchor="middle">Oct 23</text><text x="486.8" y="118.3" text-anchor="middle">Oct 26</text><text x="581.3" y="118.3" text-anchor="middle">Oct 29</text><text x="677.0" y="118.3" text-anchor="middle">Nov 1</text><text x="771.5" y="118.3" text-anchor="middle">Nov 4</text><text x="866.0" y="118.3" text-anchor="middle">Nov 7</text><text x="960.5" y="118.3" text-anchor="middle">Nov 10</text><text x="1054.9" y="118.3" text-anchor="middle">Nov 13</text></g></svg>
<div class="chat"><svg class="abs" style="left:9px;top:9.100px" width="15" height="15" viewBox="0 0 15 15"><path d="M7.5 1.600a6.200 5.300 0 1 0 3.200 9.900l2.700 1-.7-2.600A6.200 5.300 0 0 0 7.500 1.600z" fill="none" stroke="#fff" stroke-width="1.250" stroke-linejoin="round"/></svg></div>
<div class="corner"></div><div class="corner2"></div>
</body>
</html>
